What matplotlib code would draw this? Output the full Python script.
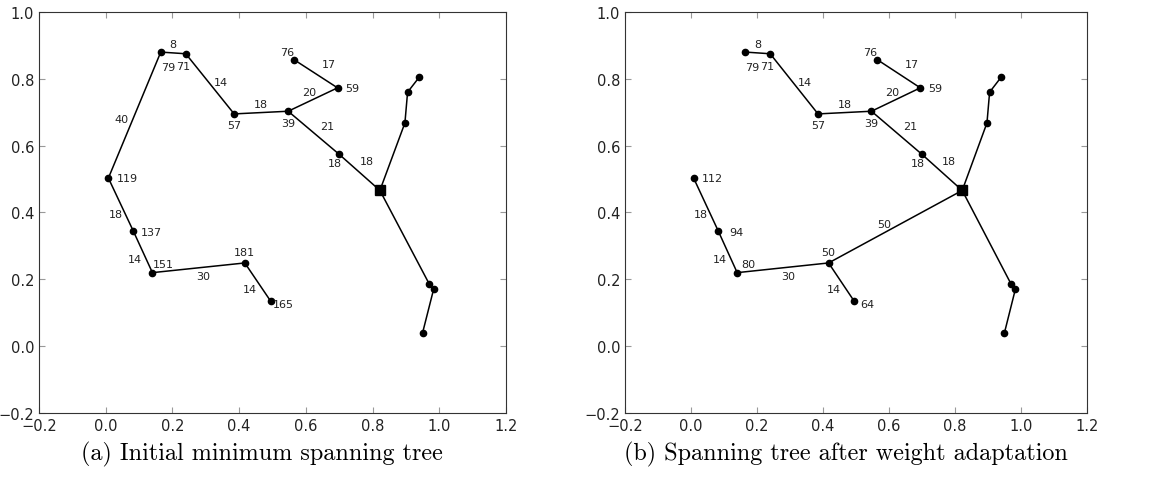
import matplotlib
matplotlib.use("Agg")
import matplotlib.pyplot as plt
import numpy as np

# node positions (same for both panels), index 7 is the square hub
node_x = [0.165, 0.240, 0.385, 0.547, 0.695, 0.565, 0.700, 0.822, 0.897, 0.905,
          0.940, 0.970, 0.983, 0.950, 0.008, 0.082, 0.140, 0.417, 0.495]
node_y = [0.880, 0.875, 0.695, 0.703, 0.773, 0.857, 0.574, 0.466, 0.668, 0.760,
          0.805, 0.186, 0.170, 0.040, 0.503, 0.346, 0.220, 0.249, 0.134]
hub = 7

# node values
values_a = {0: "79", 1: "71", 2: "57", 3: "39", 4: "59", 5: "76", 6: "18",
            14: "119", 15: "137", 16: "151", 17: "181", 18: "165"}
values_b = {0: "79", 1: "71", 2: "57", 3: "39", 4: "59", 5: "76", 6: "18",
            14: "112", 15: "94", 16: "80", 17: "50", 18: "64"}

# edges and weights (None = no label)
edges_a = [(0, 1), (1, 2), (2, 3), (3, 4), (4, 5), (3, 6), (6, 7), (7, 8), (8, 9),
           (9, 10), (7, 11), (11, 12), (12, 13), (0, 14), (14, 15), (15, 16),
           (16, 17), (17, 18)]
weights_a = [8, 14, 18, 20, 17, 21, 18, None, None, None, None, None, None,
             40, 18, 14, 30, 14]
edges_b = [(0, 1), (1, 2), (2, 3), (3, 4), (4, 5), (3, 6), (6, 7), (7, 8), (8, 9),
           (9, 10), (7, 11), (11, 12), (12, 13), (17, 7), (14, 15), (15, 16),
           (16, 17), (17, 18)]
weights_b = [8, 14, 18, 20, 17, 21, 18, None, None, None, None, None, None,
             50, 18, 14, 30, 14]

xticks = [-0.2, 0.0, 0.2, 0.4, 0.6, 0.8, 1.0, 1.2]
yticks = [-0.2, 0.0, 0.2, 0.4, 0.6, 0.8, 1.0]

# label placement offsets in pixels
node_off = {0: (7, -15), 1: (-3, -12), 2: (0, -11), 3: (0, -12), 4: (15, 0),
            5: (-7, 8), 6: (-4, -9), 14: (19, 0), 15: (18, -1), 16: (11, 9),
            17: (0, 11), 18: (13, -3)}
edge_off = {(0, 1): (0, 9), (1, 2): (11, 2), (2, 3): (0, 9), (3, 4): (-4, 8),
            (4, 5): (13, 10), (3, 6): (13, 7), (6, 7): (7, 11), (0, 14): (-13, -4),
            (14, 15): (-5, -10), (15, 16): (-8, -7), (16, 17): (5, -8),
            (17, 18): (-8, -7), (17, 7): (-11, 3)}


def fmt(t):
    return ("%.1f" % t).replace("-", "\u2212")


def draw(ax, edges, weights, values):
    for (i, j), w in zip(edges, weights):
        ax.plot([node_x[i], node_x[j]], [node_y[i], node_y[j]], "k-", lw=1.1)
        if w is not None:
            mx = (node_x[i] + node_x[j]) / 2
            my = (node_y[i] + node_y[j]) / 2
            ax.annotate(str(w), (mx, my), xytext=edge_off[(i, j)],
                        textcoords="offset pixels", ha="center", va="center",
                        fontsize=8, color="#222222")
    idx = [k for k in range(len(node_x)) if k != hub]
    ax.plot([node_x[k] for k in idx], [node_y[k] for k in idx], "ko",
            markersize=4.5)
    ax.plot([node_x[hub]], [node_y[hub]], "ks", markersize=7)
    for k, v in values.items():
        ax.annotate(v, (node_x[k], node_y[k]), xytext=node_off[k],
                    textcoords="offset pixels", ha="center", va="center",
                    fontsize=8, color="#222222")
    ax.set_xlim(-0.2, 1.2)
    ax.set_ylim(-0.2, 1.0)
    ax.set_xticks(xticks)
    ax.set_yticks(yticks)
    ax.set_xticklabels([fmt(t) for t in xticks])
    ax.set_yticklabels([fmt(t) for t in yticks])
    ax.tick_params(direction="in", top=True, right=True, labelsize=10.5,
                   length=4, color="#999999", labelcolor="#222222")
    for s in ax.spines.values():
        s.set_color("#333333")


fig = plt.figure(figsize=(11.68, 4.81), dpi=100)
ax1 = fig.add_axes([0.0334, 0.1393, 0.3998, 0.8337])
ax2 = fig.add_axes([0.5351, 0.1393, 0.3955, 0.8337])
draw(ax1, edges_a, weights_a, values_a)
draw(ax2, edges_b, weights_b, values_b)

fig.text(262 / 1168, 0.056, "(a) Initial minimum spanning tree",
         ha="center", va="center", fontsize=17.4, family="cmr10")
fig.text(845.5 / 1168, 0.056, "(b) Spanning tree after weight adaptation",
         ha="center", va="center", fontsize=17.4, family="cmr10")

fig.savefig("out.png", dpi=100)
